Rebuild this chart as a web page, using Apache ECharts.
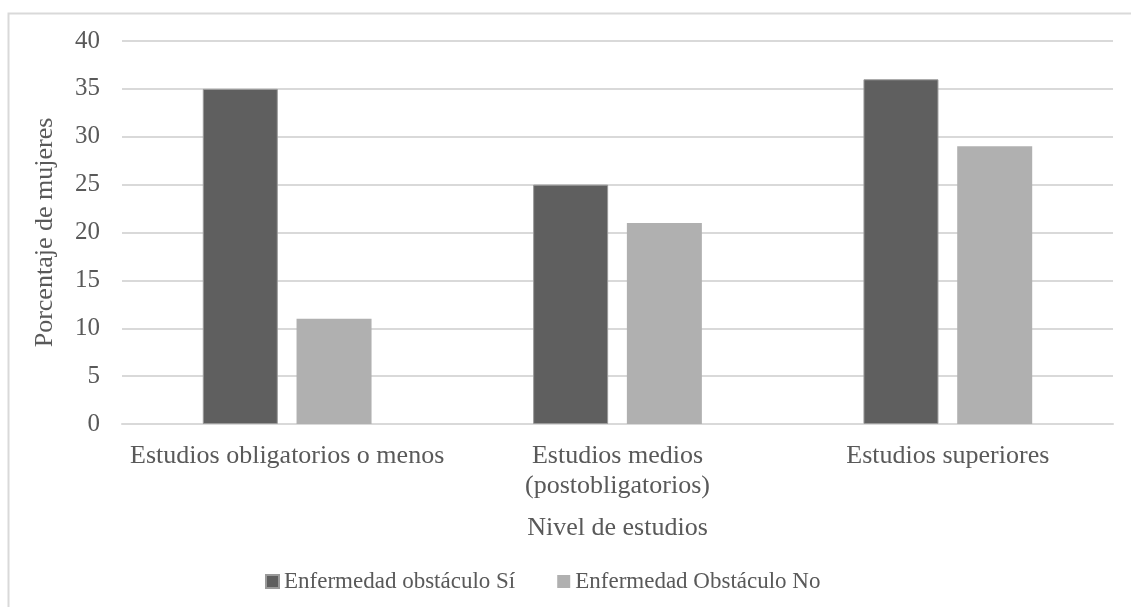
<!DOCTYPE html>
<html>
<head>
<meta charset="utf-8">
<script src="https://cdn.jsdelivr.net/npm/echarts@6/dist/echarts.min.js"></script>
<style>
  html, body { margin: 0; padding: 0; background: #fff; }
  #chart { width: 1131px; height: 607px; }
</style>
</head>
<body>
<div id="chart"></div>
<script>
// Porcentaje de mujeres según nivel de estudios y enfermedad como obstáculo
const categories = ['Estudios obligatorios o menos', 'Estudios medios\n(postobligatorios)', 'Estudios superiores'];
const seriesNames = ['Enfermedad obstáculo Sí', 'Enfermedad Obstáculo No'];
const valuesSi = [35, 25, 36];
const valuesNo = [11, 21, 29];
const yTicks = { min: 0, max: 40, interval: 5 };

const FONT = '"Liberation Serif", "Times New Roman", serif';
const TEXT = '#595959';

const chart = echarts.init(document.getElementById('chart'), null, { renderer: 'canvas' });
chart.setOption({
  backgroundColor: '#fff',
  animation: false,
  textStyle: { fontFamily: FONT, color: TEXT },
  graphic: [{
    type: 'rect',
    shape: { x: 8.5, y: 13.5, width: 1140, height: 620 },
    style: { fill: 'none', stroke: '#d9d9d9', lineWidth: 2 },
    silent: true
  }],
  grid: { left: 122, right: 18, top: 41, bottom: 183, containLabel: false },
  legend: {
    top: 565,
    left: 260,
    itemWidth: 13,
    itemHeight: 13,
    itemGap: 42,
    icon: 'rect',
    textStyle: { fontFamily: FONT, fontSize: 23, color: TEXT },
    data: seriesNames
  },
  xAxis: {
    type: 'category',
    data: categories,
    name: 'Nivel de estudios',
    nameLocation: 'middle',
    nameGap: 91,
    nameTextStyle: { fontFamily: FONT, fontSize: 26, color: TEXT },
    axisLine: { show: true, lineStyle: { color: '#d9d9d9', width: 2 } },
    axisTick: { show: false },
    axisLabel: { fontFamily: FONT, fontSize: 26, color: TEXT, margin: 17, lineHeight: 30, interval: 0 }
  },
  yAxis: {
    type: 'value',
    min: yTicks.min,
    max: yTicks.max,
    interval: yTicks.interval,
    name: 'Porcentaje de mujeres',
    nameLocation: 'middle',
    nameGap: 64,
    nameTextStyle: { fontFamily: FONT, fontSize: 26, color: TEXT },
    axisLine: { show: false },
    axisTick: { show: false },
    axisLabel: { fontFamily: FONT, fontSize: 25, color: TEXT, margin: 22 },
    splitLine: { lineStyle: { color: '#d9d9d9', width: 2 } }
  },
  series: [
    {
      name: seriesNames[0],
      type: 'bar',
      data: valuesSi,
      barWidth: 75,
      barGap: '25%',
      itemStyle: { color: '#5f5f5f', borderColor: '#9a9a9a', borderWidth: 1 }
    },
    {
      name: seriesNames[1],
      type: 'bar',
      data: valuesNo,
      barWidth: 75,
      itemStyle: { color: '#b0b0b0' }
    }
  ]
});
</script>
</body>
</html>
